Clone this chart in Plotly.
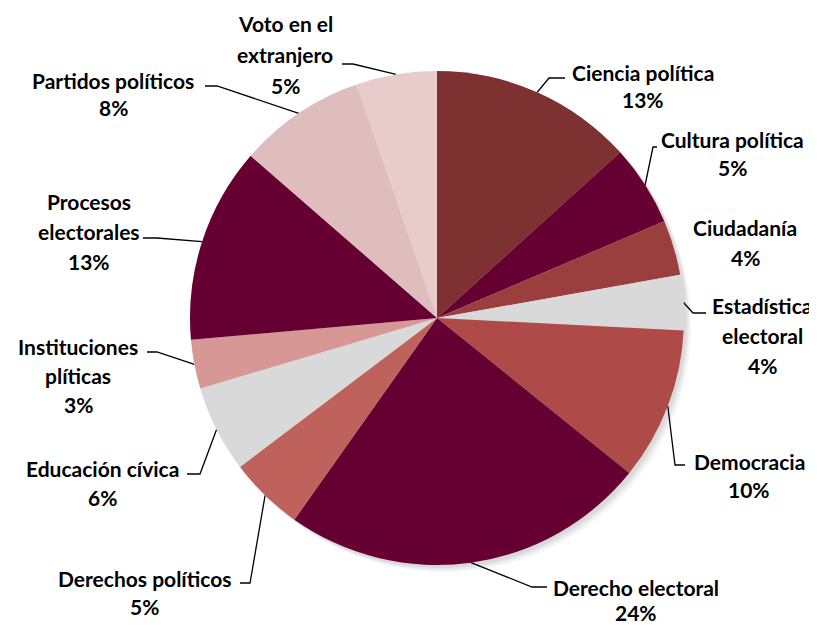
import math
import plotly.graph_objects as go

labels = ["Ciencia política", "Cultura política", "Ciudadanía", "Estadística electoral",
          "Democracia", "Derecho electoral", "Derechos políticos", "Educación cívica",
          "Instituciones plíticas", "Procesos electorales", "Partidos políticos",
          "Voto en el extranjero"]
values = [13.3, 5.3, 3.6, 3.6, 10.0, 24.0, 4.9, 5.7, 3.2, 12.8, 8.3, 5.3]
colors = ["#7E3131", "#660033", "#9A3F3E", "#D9D9D9", "#AE4A47", "#660033",
          "#C0625C", "#D9D9D9", "#D69795", "#660033", "#DFBDBC", "#E8CBCB"]
label_lines = [["Ciencia política"], ["Cultura política"], ["Ciudadanía"],
               ["Estadística", "electoral"], ["Democracia"], ["Derecho electoral"],
               ["Derechos políticos"], ["Educación cívica"], ["Instituciones", "plíticas"],
               ["Procesos", "electorales"], ["Partidos políticos"], ["Voto en el", "extranjero"]]

W, H = 817, 625
OFF = 8  # page body margin
CX, CY, R = 437, 318, 247

# label layout (pixels, page coordinates)
label_x = [643, 732, 745, 762, 749, 636, 144, 102, 78, 89, 113, 285]
label_y0 = [72, 139, 227, 305, 461, 587, 578, 468, 346, 201, 80, 23]
line_gap = [27, 28, 30, 30, 28, 25, 28, 29, 29, 30, 27, 31]
elbow = [(549, 78), (653, 147), None, (693, 313), (675, 465), (532, 587), (250, 583),
         (200, 474), (157, 352), (157, 238), (217, 86), (353, 64)]
end = [(565, 78), (657, 147), None, (706, 313), (685, 465), (547, 587), (240, 583),
       (187, 474), (147, 352), (143, 238), (205, 86), (342, 64)]

total = sum(values)
fig = go.Figure()

fig.add_trace(go.Pie(
    labels=labels, values=values, sort=False, direction="clockwise", rotation=0,
    marker=dict(colors=colors, line=dict(width=0)), textinfo="none",
    hoverinfo="label+percent", showlegend=False,
    domain=dict(x=[(CX - OFF - R) / W, (CX - OFF + R) / W],
                y=[(H - (CY - OFF) - R) / H, (H - (CY - OFF) + R) / H]),
))

# leader lines from slice mid-angles
lx, ly = [], []
cum = 0
for i, v in enumerate(values):
    mid = (cum + v / 2) / total * 2 * math.pi
    cum += v
    if elbow[i] is None:
        continue
    sx = CX + R * math.sin(mid)
    sy = CY - R * math.cos(mid)
    lx += [sx, elbow[i][0], end[i][0], None]
    ly += [sy, elbow[i][1], end[i][1], None]

fig.add_trace(go.Scatter(x=lx, y=ly, mode="lines", line=dict(color="black", width=1.3),
                         hoverinfo="skip", showlegend=False))

annotations = []
for i, lines in enumerate(label_lines):
    pct = f"{round(values[i] / total * 100)}%"
    for j, t in enumerate(lines + [pct]):
        annotations.append(dict(x=label_x[i], y=label_y0[i] + j * line_gap[i], xref="x", yref="y",
                                text=f"<b>{t}</b>", showarrow=False, xanchor="center",
                                yanchor="middle",
                                font=dict(family="Lato", size=21, color="black")))

shapes = []
for k, op in [(7, 0.04), (5, 0.05), (3, 0.06)]:
    shapes.append(dict(type="circle", xref="x", yref="y", layer="below",
                       x0=CX - R + k, x1=CX + R + k, y0=CY - R + k, y1=CY + R + k,
                       fillcolor=f"rgba(0,0,0,{op})", line=dict(width=0)))

fig.update_layout(
    width=W, height=H, margin=dict(l=0, r=0, t=0, b=0),
    paper_bgcolor="white", plot_bgcolor="rgba(0,0,0,0)",
    xaxis=dict(range=[OFF, W + OFF], visible=False, fixedrange=True, domain=[0, 1]),
    yaxis=dict(range=[H + OFF, OFF], visible=False, fixedrange=True, domain=[0, 1]),
    annotations=annotations, shapes=shapes,
)

fig.write_html("out.html")
